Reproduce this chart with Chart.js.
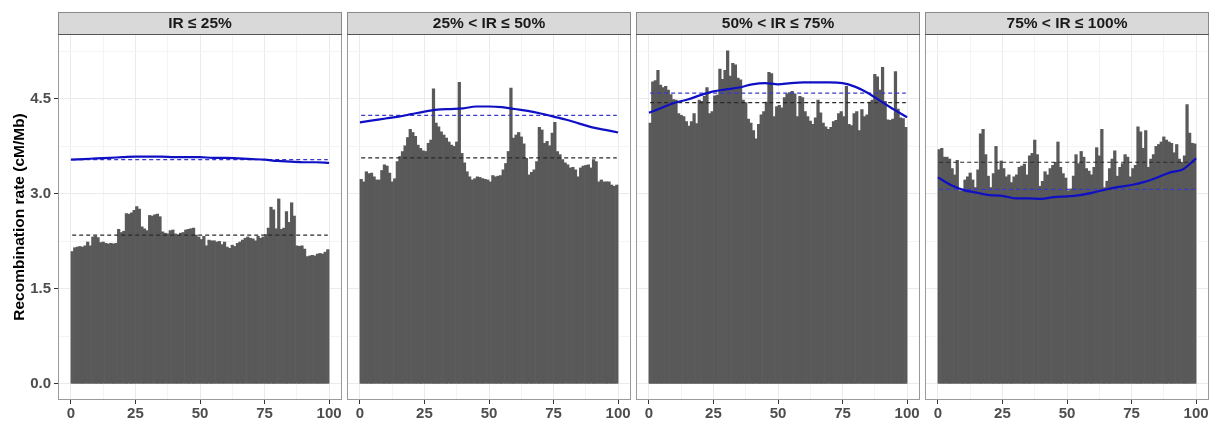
<!DOCTYPE html>
<html>
<head>
<meta charset="utf-8">
<script src="https://cdn.jsdelivr.net/npm/chart.js@4.4.1/dist/chart.umd.min.js"></script>
<style>
body { margin: 0; background: #fff; width: 1217px; height: 421px; overflow: hidden; }
canvas { position: absolute; top: 0; }
</style>
</head>
<body>
<canvas id="c1" width="343" height="421" style="left:0px"></canvas>
<canvas id="c2" width="285" height="421" style="left:347px"></canvas>
<canvas id="c3" width="285" height="421" style="left:636px"></canvas>
<canvas id="c4" width="285" height="421" style="left:925px"></canvas>
<script>
// facet labels
const facets = ['IR ≤ 25%', '25% < IR ≤ 50%', '50% < IR ≤ 75%', '75% < IR ≤ 100%'];

// bar heights, one per percentile bin (0-1, 1-2, ... 99-100)
const bars1 = [
  2.09, 2.15, 2.16, 2.17, 2.16, 2.18, 2.24, 2.18, 2.32, 2.33,
  2.31, 2.23, 2.24, 2.22, 2.21, 2.22, 2.21, 2.22, 2.44, 2.39,
  2.41, 2.69, 2.68, 2.70, 2.74, 2.80, 2.76, 2.48, 2.45, 2.42,
  2.66, 2.65, 2.67, 2.68, 2.64, 2.40, 2.38, 2.37, 2.42, 2.43,
  2.37, 2.35, 2.38, 2.39, 2.43, 2.44, 2.45, 2.46, 2.35, 2.32,
  2.28, 2.33, 2.18, 2.27, 2.26, 2.26, 2.24, 2.25, 2.20, 2.24,
  2.16, 2.14, 2.19, 2.17, 2.22, 2.24, 2.27, 2.30, 2.32, 2.30,
  2.29, 2.26, 2.33, 2.30, 2.32, 2.36, 2.46, 2.79, 2.75, 2.45,
  2.92, 2.44, 2.46, 2.72, 2.55, 2.86, 2.65, 2.18, 2.17, 2.18,
  2.13, 2.01, 2.02, 2.03, 2.02, 2.05, 2.06, 2.05, 2.08, 2.12
];
const bars2 = [
  3.23, 3.19, 3.35, 3.32, 3.33, 3.27, 3.22, 3.22, 3.37, 3.46,
  3.44, 3.33, 3.19, 3.24, 3.51, 3.59, 3.67, 3.76, 3.89, 4.02,
  3.97, 3.91, 3.77, 3.72, 3.68, 3.67, 3.80, 3.85, 4.66, 4.12,
  4.06, 3.98, 3.93, 3.88, 3.82, 3.77, 3.75, 3.82, 4.76, 3.64,
  3.49, 3.35, 3.27, 3.22, 3.24, 3.27, 3.26, 3.24, 3.23, 3.22,
  3.19, 3.29, 3.27, 3.28, 3.29, 3.38, 3.48, 3.67, 4.67, 3.88,
  3.93, 3.97, 3.90, 3.79, 3.56, 3.30, 3.34, 3.38, 3.51, 4.05,
  4.01, 3.80, 3.83, 3.76, 3.96, 4.13, 3.67, 3.62, 3.54, 3.49,
  3.46, 3.41, 3.42, 3.38, 3.27, 3.41, 3.44, 3.45, 3.46, 3.41,
  3.54, 3.51, 3.19, 3.22, 3.19, 3.19, 3.19, 3.14, 3.12, 3.14
];
const bars3 = [
  4.12, 4.77, 4.79, 4.95, 4.72, 4.68, 4.70, 4.64, 4.57, 4.49,
  4.48, 4.27, 4.24, 4.22, 4.14, 4.07, 4.14, 4.27, 4.11, 4.48,
  4.46, 4.54, 4.68, 4.27, 4.30, 4.55, 4.56, 4.97, 4.81, 4.95,
  5.26, 4.86, 5.06, 5.04, 4.83, 4.80, 4.48, 4.44, 4.18, 4.12,
  4.00, 3.87, 4.10, 4.25, 4.30, 4.45, 4.92, 4.90, 4.22, 4.38,
  4.40, 4.36, 4.52, 4.58, 4.60, 4.62, 4.58, 4.22, 4.54, 4.52,
  4.30, 4.22, 4.15, 4.10, 4.20, 4.48, 4.28, 4.12, 4.06, 4.02,
  4.05, 4.14, 4.16, 4.27, 4.30, 4.22, 4.70, 4.10, 4.08, 4.27,
  4.30, 4.00, 4.33, 4.22, 4.25, 4.45, 4.48, 4.89, 4.85, 4.64,
  5.00, 4.46, 4.17, 4.16, 4.18, 4.93, 4.34, 4.20, 4.19, 4.05
];
const bars4 = [
  3.70, 3.72, 3.58, 3.58, 3.55, 3.40, 3.30, 3.53, 3.05, 3.04,
  3.22, 3.27, 3.33, 3.22, 3.10, 3.38, 3.95, 4.02, 3.62, 3.28,
  3.10, 3.32, 3.75, 3.38, 3.52, 3.40, 3.27, 3.30, 3.18, 3.27,
  3.30, 3.42, 3.44, 3.47, 3.30, 3.60, 3.64, 3.85, 3.62, 3.12,
  3.20, 3.35, 3.30, 3.40, 3.45, 3.50, 3.82, 3.42, 3.32, 3.25,
  3.05, 3.08, 3.28, 3.62, 3.48, 3.67, 3.58, 3.40, 3.36, 3.30,
  3.42, 3.73, 3.60, 4.02, 3.10, 3.20, 3.40, 3.55, 3.68, 3.28,
  3.42, 3.48, 3.62, 3.58, 3.27, 3.40, 3.45, 4.06, 3.98, 3.72,
  4.00, 3.42, 3.55, 3.62, 3.75, 3.78, 3.82, 3.90, 3.85, 3.82,
  3.80, 3.65, 3.78, 3.55, 3.50, 3.60, 4.41, 3.96, 3.80, 3.79
];

// smoothed trend (blue), sampled every 5 percentiles
const smoothX = [0, 5, 10, 15, 20, 25, 30, 35, 40, 45, 50, 55, 60, 65, 70, 75, 80, 85, 90, 95, 100];
const smooth1 = [3.54, 3.55, 3.56, 3.57, 3.58, 3.59, 3.59, 3.59, 3.58, 3.58, 3.58, 3.57, 3.57, 3.56, 3.55, 3.54, 3.52, 3.51, 3.50, 3.50, 3.49];
const smooth2 = [4.13, 4.16, 4.19, 4.22, 4.26, 4.30, 4.33, 4.34, 4.35, 4.38, 4.38, 4.37, 4.34, 4.31, 4.27, 4.22, 4.17, 4.11, 4.05, 4.01, 3.97];
const smooth3 = [4.28, 4.36, 4.44, 4.49, 4.56, 4.62, 4.65, 4.68, 4.73, 4.75, 4.73, 4.75, 4.76, 4.76, 4.76, 4.75, 4.69, 4.59, 4.46, 4.33, 4.21];
const smooth4 = [3.26, 3.14, 3.06, 3.02, 2.98, 2.97, 2.93, 2.93, 2.92, 2.95, 2.96, 2.98, 3.02, 3.07, 3.11, 3.14, 3.19, 3.26, 3.34, 3.39, 3.56];

// reference means (dashed): black = bars, blue = trend
const meanBlack = [2.35, 3.57, 4.44, 3.50];
const meanBlue = [3.54, 4.24, 4.59, 3.07];

// axis ticks
const xMajor = [0, 25, 50, 75, 100];
const xGrid = [0, 12.5, 25, 37.5, 50, 62.5, 75, 87.5, 100];
const yMajor = [0, 1.5, 3, 4.5];
const yGrid = [0, 0.75, 1.5, 2.25, 3, 3.75, 4.5, 5.25];

const FONT = "'Liberation Sans', Arial, sans-serif";

// strip + panel border, ggplot style
const facetPlugin = {
  id: 'facet',
  beforeDraw(chart, args, opts) {
    const a = chart.chartArea, ctx = chart.ctx;
    ctx.save();
    ctx.fillStyle = '#D9D9D9';
    ctx.fillRect(a.left, 12, a.right - a.left, a.top - 12);
    ctx.restore();
  },
  afterDraw(chart, args, opts) {
    const a = chart.chartArea, ctx = chart.ctx;
    ctx.save();
    ctx.lineWidth = 1;
    ctx.strokeStyle = '#9A9A9A';
    ctx.strokeRect(a.left + 0.5, a.top + 0.5, a.right - a.left - 1, a.bottom - a.top - 1);
    ctx.strokeStyle = '#8A8A8A';
    ctx.strokeRect(a.left + 0.5, 12.5, a.right - a.left - 1, a.top - 12);
    ctx.strokeStyle = '#555555';
    ctx.beginPath();
    ctx.moveTo(a.left, a.top + 0.5);
    ctx.lineTo(a.right, a.top + 0.5);
    ctx.stroke();
    ctx.fillStyle = '#1A1A1A';
    ctx.font = 'bold 15.5px ' + FONT;
    ctx.textAlign = 'center';
    ctx.textBaseline = 'middle';
    ctx.fillText(opts.label, (a.left + a.right) / 2, 23.5);
    ctx.restore();
  }
};

function makeChart(id, idx, bars, smooth) {
  const first = idx === 0;
  const barData = bars.map((v, i) => ({ x: i + 0.5, y: v }));
  const lineData = smoothX.map((x, i) => ({ x: x, y: smooth[i] }));
  const ctx = document.getElementById(id).getContext('2d');
  return new Chart(ctx, {
    type: 'bar',
    data: {
      datasets: [
        {
          type: 'line', data: lineData, borderColor: '#0F0FC4', borderWidth: 2.2,
          pointRadius: 0, cubicInterpolationMode: 'monotone', order: 1
        },
        {
          type: 'line', data: [{ x: 0.5, y: meanBlue[idx] }, { x: 99.5, y: meanBlue[idx] }],
          borderColor: '#3A3AC8', borderWidth: 1.2, borderDash: [4, 3], pointRadius: 0, order: 2
        },
        {
          type: 'line', data: [{ x: 0.5, y: meanBlack[idx] }, { x: 99.5, y: meanBlack[idx] }],
          borderColor: '#2A2A2A', borderWidth: 1.2, borderDash: [4, 3], pointRadius: 0, order: 2
        },
        {
          data: barData, backgroundColor: '#595959', borderWidth: 0,
          barPercentage: 1, categoryPercentage: 1, order: 3
        }
      ]
    },
    options: {
      responsive: false,
      animation: false,
      devicePixelRatio: 1,
      layout: { padding: { top: 34, right: 1, left: 0, bottom: 0 } },
      plugins: {
        legend: { display: false },
        tooltip: { enabled: false },
        facet: { label: facets[idx] }
      },
      scales: {
        x: {
          type: 'linear', min: -5, max: 105, offset: false,
          afterBuildTicks: s => { s.ticks = xGrid.map(v => ({ value: v })); },
          afterFit: s => { s.height = 21; },
          border: { display: false },
          grid: {
            offset: false,
            color: c => xMajor.includes(c.tick && c.tick.value) ? '#EBEBEB' : '#F4F4F4',
            lineWidth: 1,
            tickLength: 4,
            tickColor: c => xMajor.includes(c.tick && c.tick.value) ? '#333333' : 'rgba(0,0,0,0)'
          },
          ticks: {
            autoSkip: false, maxRotation: 0, padding: 1,
            color: '#4D4D4D', font: { family: FONT, size: 15, weight: 'bold' },
            callback: v => xMajor.includes(v) ? String(v) : ''
          }
        },
        y: {
          min: -0.255, max: 5.525,
          afterBuildTicks: s => { s.ticks = yGrid.map(v => ({ value: v })); },
          afterFit: s => { s.width = first ? 58 : 0; },
          border: { display: false },
          grid: {
            color: c => yMajor.includes(c.tick && c.tick.value) ? '#EBEBEB' : '#F4F4F4',
            lineWidth: 1,
            drawTicks: first,
            tickLength: 4,
            tickColor: c => yMajor.includes(c.tick && c.tick.value) ? '#333333' : 'rgba(0,0,0,0)'
          },
          ticks: {
            display: first, autoSkip: false, padding: 3,
            color: '#4D4D4D', font: { family: FONT, size: 15, weight: 'bold' },
            callback: v => yMajor.includes(v) ? v.toFixed(1) : ''
          },
          title: {
            display: first, text: 'Recombination rate (cM/Mb)', color: '#000000',
            font: { family: FONT, size: 15.5, weight: 'bold' }, padding: { top: 10, bottom: 0 }
          }
        }
      }
    },
    plugins: [facetPlugin]
  });
}

makeChart('c1', 0, bars1, smooth1);
makeChart('c2', 1, bars2, smooth2);
makeChart('c3', 2, bars3, smooth3);
makeChart('c4', 3, bars4, smooth4);
</script>
</body>
</html>
